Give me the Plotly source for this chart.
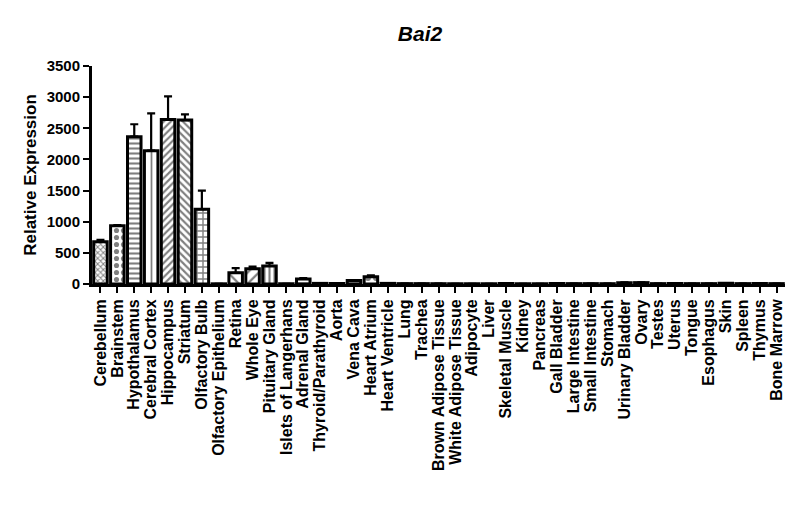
import plotly.graph_objects as go

tissues = [
    "Cerebellum", "Brainstem", "Hypothalamus", "Cerebral Cortex", "Hippocampus",
    "Striatum", "Olfactory Bulb", "Olfactory Epithelium", "Retina", "Whole Eye",
    "Pituitary Gland", "Islets of Langerhans", "Adrenal Gland", "Thyroid/Parathyroid",
    "Aorta", "Vena Cava", "Heart Atrium", "Heart Ventricle", "Lung", "Trachea",
    "Brown Adipose Tissue", "White Adipose Tissue", "Adipocyte", "Liver",
    "Skeletal Muscle", "Kidney", "Pancreas", "Gall Bladder", "Large Intestine",
    "Small Intestine", "Stomach", "Urinary Bladder", "Ovary", "Testes", "Uterus",
    "Tongue", "Esophagus", "Skin", "Spleen", "Thymus", "Bone Marrow",
]

expression = [
    680, 935, 2365, 2140, 2643, 2632, 1200, 3, 180, 245,
    290, 4, 80, 10, 8, 55, 115, 10, 6, 6,
    5, 4, 4, 4, 8, 4, 4, 8, 6, 6,
    5, 20, 22, 6, 8, 6, 6, 12, 6, 8, 6,
]

sem = [
    30, 10, 200, 600, 370, 90, 300, 0, 75, 35,
    50, 0, 15, 0, 0, 5, 25, 0, 0, 0,
    0, 0, 0, 0, 0, 0, 0, 0, 0, 0,
    0, 5, 5, 0, 0, 0, 0, 3, 0, 0, 0,
]

# hatch fill for each bar (GraphPad-style)
patterns = [
    "x", ".", "-", "|", "/", "\\", "+", "", "\\", "/",
    "|", "", "-", "-", "x", "-", ".", "|", "/", "\\",
    "x", "+", "-", "|", "/", "\\", ".", "x", "-", "|",
    "/", "\\", "+", ".", "-", "|", "/", "\\", "x", ".", "-",
]
pattern_sizes = [
    4, 7, 5, 7, 5, 5, 6, 5, 10, 8,
    5, 5, 5, 5, 5, 5, 8, 5, 5, 5,
    5, 5, 5, 5, 5, 5, 5, 5, 5, 5,
    5, 5, 5, 5, 5, 5, 5, 5, 5, 5, 5,
]
solidity = [0.42] * len(tissues)
solidity[3] = 0.25
solidity[8] = 0.22
solidity[9] = 0.28

FONT = "Liberation Sans, Arial, sans-serif"

fig = go.Figure()
fig.add_trace(
    go.Bar(
        x=tissues,
        y=expression,
        marker=dict(
            color="white",
            line=dict(color="black", width=3),
            pattern=dict(
                shape=patterns,
                size=pattern_sizes,
                solidity=solidity,
                fgcolor="black",
                bgcolor="white",
            ),
        ),
        error_y=dict(
            type="data",
            symmetric=False,
            array=sem,
            arrayminus=[0] * len(sem),
            color="black",
            thickness=2.2,
            width=4,
        ),
        showlegend=False,
    )
)

fig.update_layout(
    width=800,
    height=522,
    paper_bgcolor="white",
    plot_bgcolor="white",
    margin=dict(l=84, r=23, t=58, b=246),
    bargap=0.2,
    title=dict(
        text="<b><i>Bai2</i></b>",
        x=412 / 800, xanchor="center",
        y=1 - 26 / 522, yanchor="middle",
        font=dict(family=FONT, size=21, color="black"),
    ),
    font=dict(family=FONT, color="black"),
)

fig.update_xaxes(
    range=[-0.5, len(tissues) - 0.5],
    tickmode="array",
    tickvals=tissues,
    ticktext=tissues,
    tickangle=-90,
    tickfont=dict(family=FONT, size=16, color="black", weight="bold"),
    ticks="outside",
    ticklen=6,
    tickwidth=2,
    tickcolor="black",
    showline=True,
    linecolor="black",
    linewidth=3,
    showgrid=False,
)
fig.update_yaxes(
    range=[0, 3500],
    tickvals=[0, 500, 1000, 1500, 2000, 2500, 3000, 3500],
    tickfont=dict(family=FONT, size=15, color="black", weight="bold"),
    ticks="outside",
    ticklen=6,
    tickwidth=2,
    tickcolor="black",
    showline=True,
    linecolor="black",
    linewidth=3,
    showgrid=False,
    zeroline=False,
    title=dict(
        text="Relative Expression",
        font=dict(family=FONT, size=17, color="black", weight="bold"),
        standoff=6,
    ),
)

fig.write_html("out.html")
